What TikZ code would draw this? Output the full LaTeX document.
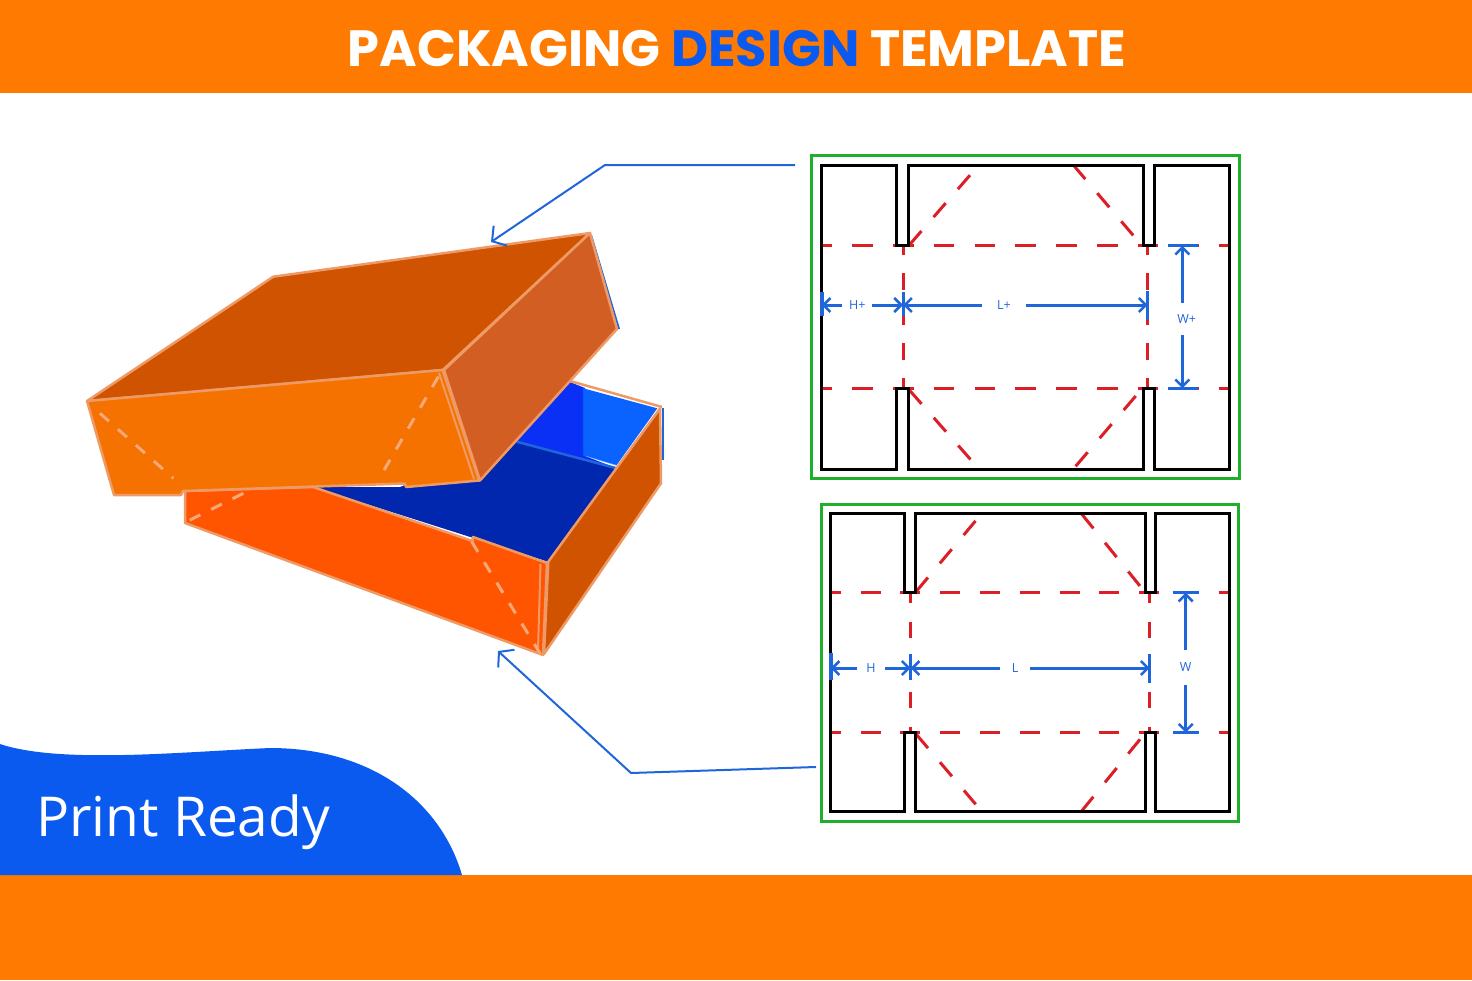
\documentclass[tikz,border=0pt]{standalone}
\usepackage{fontspec}
\setsansfont{Open Sans}
\newfontfamily\titlefont{Poppins}
\usetikzlibrary{arrows.meta}
\definecolor{bandorange}{HTML}{FF7A00}
\definecolor{printblue}{HTML}{0B5AF0}
\definecolor{dimblue}{HTML}{1F66DA}
\definecolor{edgeorange}{HTML}{EE9A66}
\definecolor{dashorange}{HTML}{F6A878}
\definecolor{lidtop}{HTML}{CF5300}
\definecolor{lidfront}{HTML}{F57200}
\definecolor{lidside}{HTML}{D35E23}
\definecolor{trayfront}{HTML}{FF5500}
\definecolor{trayfloor}{HTML}{0027AE}
\definecolor{traywall}{HTML}{0A2FF5}
\definecolor{traypanel}{HTML}{0A62FF}
\definecolor{foldred}{HTML}{DC1F26}
\definecolor{framegreen}{HTML}{1FAF2B}
\tikzset{
  facet/.style={draw=edgeorange,line width=2.5pt,line join=round},
  fold/.style={dashorange,line width=3pt,dash pattern=on 12pt off 12pt},
  frame/.style={draw=framegreen,line width=3pt},
  cutline/.style={draw=black,line width=3pt,line join=miter},
  foldline/.style={foldred,line width=3pt},
  dimline/.style={dimblue,line width=3pt,-{Straight Barb[length=7pt,width=14pt,line width=2.5pt]}},
  dimtick/.style={dimblue,line width=3pt},
  dimlabel/.style={text=dimblue,inner sep=0pt,font=\sffamily\fontsize{12.5}{12.5}\selectfont},
  callout/.style={dimblue,line width=2pt,-{Straight Barb[length=10pt,width=24pt,line width=2pt]}}
}
\begin{document}
\begin{tikzpicture}[x=1pt,y=-1pt]
  \useasboundingbox (0,0) rectangle (1472,980);
  % bands
  \fill[bandorange] (0,0) rectangle (1472,93);
  \fill[bandorange] (0,875) rectangle (1472,980);
  \fill[printblue] (0,744) .. controls (60,764) and (180,752) .. (270,748)
    .. controls (370,748) and (440,800) .. (462,875) -- (0,875) -- cycle;
  \node[text=white,inner sep=0pt] (title) at (737,49)
    {\titlefont\fontsize{51}{51}\selectfont\bfseries PACKAGING \textcolor{printblue}{DESIGN} TEMPLATE};
  \node[text=white,inner sep=0pt,anchor=west] (printready) at (36,822)
    {\sffamily\fontsize{55}{55}\selectfont Print Ready};

  % tray
  \fill[traywall] (515,441)--(570,382)--(585,388)--(585,456)--(616,468)--cycle;
  \fill[traypanel] (583.3,388.3)--(657.3,408.3)--(616.7,465)--(583.3,455)--cycle;
  \draw[color=blue!60!cyan,line width=1.5pt,opacity=.5] (583.3,388.3)--(583.3,455)--(616.7,465);
  \fill[trayfloor] (313,487)--(548,561.7)--(616,469)--(517,441)--(400,487)--cycle;
  \draw[color=dimblue,line width=2.5pt] (516.7,441.7)--(616.7,468.3);
  \draw[dimblue,line width=2pt] (663.3,408)--(663.3,460);
  \draw[edgeorange,line width=2.5pt] (570,381)--(662,407);
  \draw[facet,fill=trayfront] (185,491)--(185,523)--(543,655)--(547,563)--(473,537)--(472.5,541)--(313,487)--cycle;
  \draw[facet,fill=lidtop] (548.3,561.7)--(660,408.5)--(661,483.3)--(544,654)--cycle;
  \draw[edgeorange,line width=2pt] (540.5,564)--(538,650);
  \draw[fold] (243.3,493.3)--(186.7,521.7);
  \draw[fold] (471.7,541.7)--(540,653.3);

  % lid
  \draw[dimblue,line width=2pt] (591,235)--(619,329);
  \draw[facet,fill=lidtop] (87,401)--(273.3,276.7)--(590,233)--(442.7,370)--cycle;
  \draw[facet,fill=lidfront] (87,401)--(442.7,370)--(479.3,480.5)--(406,487)--(405,483.5)--(183,491)--(181,495)--(114,495)--cycle;
  \draw[facet,fill=lidside] (444,370)--(590,233)--(617,329)--(480,480.5)--cycle;
  \draw[edgeorange,line width=2pt] (439,373)--(474,479);
  \draw[fold] (100,413.3)--(173.3,478.3);
  \draw[fold] (438.3,376.7)--(378.3,480);

  % upper template
  \draw[frame] (811.7,155.7) rectangle (1239,478);
  \draw[foldline,dash pattern=on 20.5pt off 20.3pt,dash phase=10.3pt] (821.7,245.7)--(1229.3,245.7);
  \draw[foldline,dash pattern=on 20.5pt off 20.3pt,dash phase=10.3pt] (821.7,388.3)--(1229.3,388.3);
  \draw[foldline,dash pattern=on 17pt off 18pt,dash phase=7.7pt] (903,245.7)--(903,388.3);
  \draw[foldline,dash pattern=on 17pt off 18pt,dash phase=7.7pt] (1147.7,245.7)--(1147.7,388.3);
  \draw[foldline,dash pattern=on 18.5pt off 18.5pt] (909.3,245)--(971,174);
  \draw[foldline,dash pattern=on 18.5pt off 18.5pt] (1073.3,165)--(1135.7,238.3);
  \draw[foldline,dash pattern=on 18.5pt off 18.5pt] (909.3,390)--(971,460);
  \draw[foldline,dash pattern=on 18.5pt off 18.5pt] (1135.7,396)--(1073.3,469);
  \draw[cutline] (896.7,245.7)--(896.7,165)--(821.7,165)--(821.7,469)--(896.7,469)--(896.7,388.3)
    --(908.3,388.3)--(908.3,469)--(1143.3,469)--(1143.3,388.3)--(1154,388.3)--(1154,469)
    --(1229.3,469)--(1229.3,165)--(1154,165)--(1154,245.7)--(1143.3,245.7)--(1143.3,165)
    --(908.3,165)--(908.3,245.7)--cycle;
  \coordinate (hpleft) at (821.7,305);
  \coordinate (hpmid) at (903,305);
  \coordinate (lpright) at (1147.7,305);
  \coordinate (wptop) at (1182.3,245.7);
  \coordinate (wpbot) at (1182.3,388.3);
  \draw[dimtick,line width=4pt] (821.7,291.7)--(821.7,315.7);
  \draw[dimtick] (903,291.7)--(903,315.7);
  \draw[dimtick] (1147.7,291)--(1147.7,320);
  \draw[dimtick] (1168.3,245.7)--(1198.3,245.7);
  \draw[dimtick] (1168.3,388.3)--(1198.3,388.3);
  \node[dimlabel,minimum width=29.4pt] (hplus) at (857.3,305) {H+};
  \node[dimlabel,minimum width=44.3pt] (lplus) at (1004,305) {L+};
  \node[dimlabel,minimum height=32pt] (wplus) at (1186.7,319) {W+};
  \coordinate (wpaxis) at (1182.3,319);
  \draw[dimline] (hplus.west)--(hpleft);
  \draw[dimline] (hplus.east)--(hpmid);
  \draw[dimline] (lplus.west)--(hpmid);
  \draw[dimline] (lplus.east)--(lpright);
  \draw[dimline] (wpaxis |- wplus.north)--(wptop);
  \draw[dimline] (wpaxis |- wplus.south)--(wpbot);

  % lower template
  \draw[frame] (821.7,504.3) rectangle (1238.3,821);
  \draw[foldline,dash pattern=on 20pt off 19.8pt,dash phase=10pt] (830.7,592.7)--(1229,592.7);
  \draw[foldline,dash pattern=on 20pt off 19.8pt,dash phase=10pt] (830.7,732.7)--(1229,732.7);
  \draw[foldline,dash pattern=on 16pt off 19pt,dash phase=6pt] (910.7,592.7)--(910.7,732.7);
  \draw[foldline,dash pattern=on 16pt off 19pt,dash phase=6pt] (1149.7,592.7)--(1149.7,732.7);
  \draw[foldline,dash pattern=on 18.5pt off 18.5pt] (916,591.7)--(975.7,520.7);
  \draw[foldline,dash pattern=on 18.5pt off 18.5pt] (1081.7,514)--(1140,586);
  \draw[foldline,dash pattern=on 18.5pt off 18.5pt] (916,734)--(975.7,804.3);
  \draw[foldline,dash pattern=on 18.5pt off 18.5pt] (1140,739.3)--(1081.7,811);
  \draw[cutline] (904.7,592.7)--(904.7,513.3)--(830.7,513.3)--(830.7,811.7)--(904.7,811.7)--(904.7,732.7)
    --(915.3,732.7)--(915.3,811.7)--(1145,811.7)--(1145,732.7)--(1155.7,732.7)--(1155.7,811.7)
    --(1229,811.7)--(1229,513.3)--(1155.7,513.3)--(1155.7,592.7)--(1145,592.7)--(1145,513.3)
    --(915.3,513.3)--(915.3,592.7)--cycle;
  \coordinate (hleft) at (830.7,668);
  \coordinate (hmid) at (910.7,668);
  \coordinate (lright) at (1149.7,668);
  \coordinate (wtop) at (1185.7,592.7);
  \coordinate (wbot) at (1185.7,732.7);
  \draw[dimtick,line width=4pt] (830.7,652.7)--(830.7,680);
  \draw[dimtick] (910.7,654)--(910.7,680);
  \draw[dimtick] (1149.7,654.3)--(1149.7,683.3);
  \draw[dimtick] (1172.7,592.7)--(1199.3,592.7);
  \draw[dimtick] (1172.7,732.7)--(1199.3,732.7);
  \node[dimlabel,minimum width=28pt] (hlabel) at (871,668) {H};
  \node[dimlabel,minimum width=30.3pt] (llabel) at (1015,668) {L};
  \node[dimlabel,minimum height=35pt] (wlabel) at (1185.7,667.5) {W};
  \draw[dimline] (hlabel.west)--(hleft);
  \draw[dimline] (hlabel.east)--(hmid);
  \draw[dimline] (llabel.west)--(hmid);
  \draw[dimline] (llabel.east)--(lright);
  \draw[dimline] (wlabel.north)--(wtop);
  \draw[dimline] (wlabel.south)--(wbot);

  % callouts
  \coordinate (lidtip) at (491,242);
  \coordinate (lidbend) at (605,165);
  \coordinate (lidstart) at (795,165);
  \coordinate (traytip) at (498,651);
  \coordinate (traybend) at (631,773);
  \coordinate (traystart) at (816,767);
  \draw[callout] (lidstart)--(lidbend)--(lidtip);
  \draw[callout] (traystart)--(traybend)--(traytip);
\end{tikzpicture}
\end{document}
